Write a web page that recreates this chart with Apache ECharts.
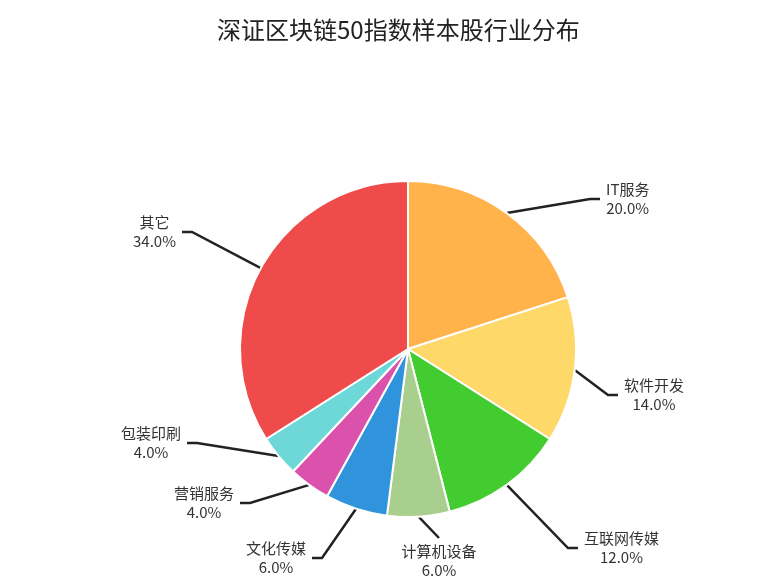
<!DOCTYPE html>
<html><head><meta charset="utf-8">
<script src="https://cdn.jsdelivr.net/npm/echarts@6/dist/echarts.min.js"></script>
<style>html,body{margin:0;padding:0;background:#fff}#c{width:784px;height:585px}</style>
</head><body><div id="c"></div>
<script>
const categories = ['IT服务','软件开发','互联网传媒','计算机设备','文化传媒','营销服务','包装印刷','其它'];
const values = [20, 14, 12, 6, 6, 4, 4, 34];
const colors = ['#FFB34A','#FFD86A','#42CC30','#A9CF8E','#2F94DC','#DA52AC','#6ED8D8','#EE4B4A'];
// label-line bend points, as offsets from the pie centre (layout, not data)
const labelBendOffsets = [[182,-150],[200,46],[160,199],[31,189],[-86,209],[-158,154],[-211,94],[-216,-117]];
const CX = 408, CY = 349, R = 168;
const data = categories.map((n,i)=>({name:n, value:values[i], itemStyle:{color:colors[i]}}));
const chart = echarts.init(document.getElementById('c'));
chart.setOption({
  backgroundColor:'#fff',
  title:{text:'深证区块链50指数样本股行业分布', left:212, top:13,
    textStyle:{fontFamily:'Noto Sans CJK SC', fontSize:24, fontWeight:'normal', color:'#222'}},
  series:[{
    type:'pie', center:[CX,CY], radius:[0,R], startAngle:90, clockwise:true,
    data:data,
    itemStyle:{borderColor:'#fff', borderWidth:2},
    label:{formatter:p=>'{t|'+p.name+'}\n{t|'+p.percent.toFixed(1)+'%}',
      rich:{t:{fontFamily:'Noto Sans CJK SC', fontSize:15, color:'#333', lineHeight:19, align:'center'}}},
    labelLine:{length:20, length2:10, lineStyle:{color:'#222', width:2.5}},
    labelLayout:function(params){
      const i = params.dataIndex;
      const off = labelBendOffsets[i];
      const p0 = params.labelLinePoints ? params.labelLinePoints[0] : [CX,CY];
      const b = [CX+off[0], CY+off[1]];
      if (i === 3) {
        return {x:b[0], y:b[1]+4, align:'center', verticalAlign:'top', labelLinePoints:[p0,b,b]};
      }
      const dir = off[0] >= 0 ? 1 : -1;
      const e = [b[0]+dir*10, b[1]];
      return {x:e[0]+dir*6, y:b[1], align:dir>0?'left':'right', verticalAlign:'middle', labelLinePoints:[p0,b,e]};
    }
  }]
});
</script></body></html>
